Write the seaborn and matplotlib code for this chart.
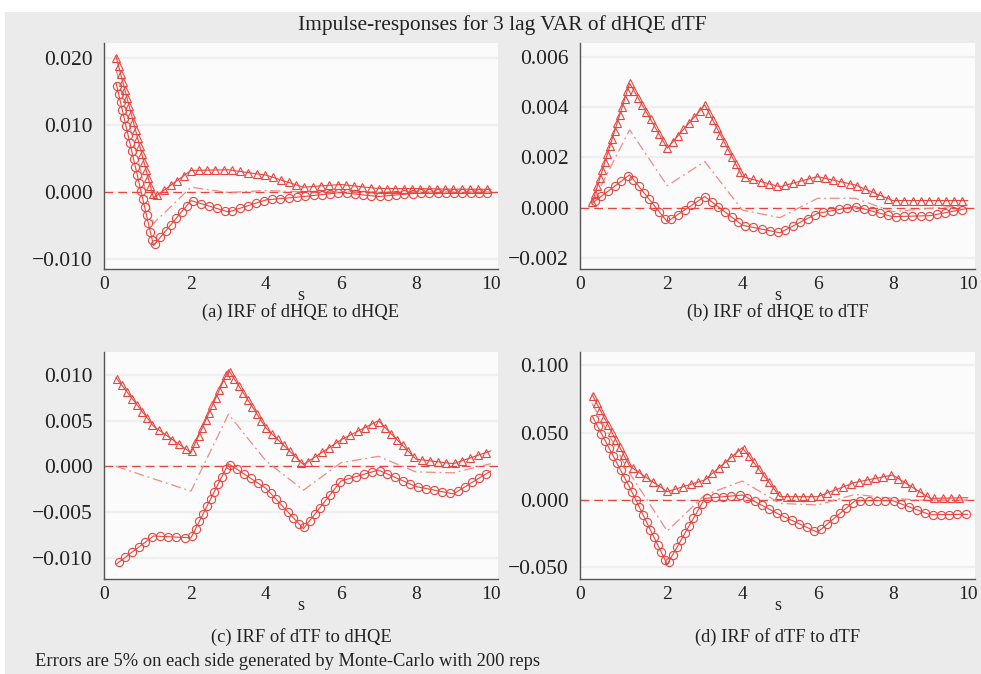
import numpy as np
import pandas as pd
import matplotlib
matplotlib.use("Agg")
import matplotlib.pyplot as plt
from matplotlib.patches import Rectangle
import seaborn as sns

# horizon (s) and the impulse responses
s = [0, 1, 2, 3, 4, 5, 6, 7, 8, 9, 10]

# (a) IRF of dHQE to dHQE
a_upper = [0.0202, -0.0009, 0.0032, 0.0033, 0.0025, 0.0007, 0.0011, 0.0005, 0.0005, 0.0004, 0.0004]
a_mid = [0.0183, -0.0047, 0.0007, -0.0001, 0.0002, 0.0000, 0.0000, 0.0000, 0.0000, 0.0000, 0.0000]
a_lower = [0.0163, -0.0080, -0.0013, -0.0030, -0.0012, -0.0007, -0.0001, -0.0007, -0.0002, -0.0002, -0.0002]

# (b) IRF of dHQE to dTF
b_upper = [0.00017, 0.00494, 0.00236, 0.00408, 0.00123, 0.00083, 0.00123, 0.00090, 0.00028, 0.00028, 0.00028]
b_mid = [0.00017, 0.00309, 0.00087, 0.00183, -0.00010, -0.00040, 0.00037, 0.00037, -0.00016, -0.00003, 0.00010]
b_lower = [0.00017, 0.00130, -0.00056, 0.00044, -0.00070, -0.00100, -0.00023, 0.00004, -0.00036, -0.00032, -0.00003]

# (c) IRF of dTF to dHQE
c_upper = [0.0097, 0.0044, 0.0015, 0.01055, 0.0042, 0.0002, 0.0029, 0.0050, 0.0008, 0.0003, 0.0017]
c_mid = [0.0000, -0.00135, -0.0027, 0.0057, 0.0006, -0.0026, 0.0004, 0.0011, -0.0006, -0.0007, 0.0003]
c_lower = [-0.0107, -0.0076, -0.0078, 0.0003, -0.0024, -0.0068, -0.0016, -0.0004, -0.0022, -0.0030, -0.0005]

# (d) IRF of dTF to dTF
d_upper = [0.0785, 0.0252, 0.0062, 0.0149, 0.0389, 0.0025, 0.0025, 0.0131, 0.0186, 0.0012, 0.0017]
d_mid = [0.0718, 0.0200, -0.0230, 0.0037, 0.0141, -0.0025, -0.0037, 0.0042, 0.0012, -0.0005, 0.0000]
d_lower = [0.0626, 0.0095, -0.0478, 0.0012, 0.0037, -0.0110, -0.0240, -0.0005, -0.0005, -0.0110, -0.0106]

titles = ["(a) IRF of dHQE to dHQE", "(b) IRF of dHQE to dTF",
          "(c) IRF of dTF to dHQE", "(d) IRF of dTF to dTF"]
yticks = [[-0.010, 0.000, 0.010, 0.020],
          [-0.002, 0.000, 0.002, 0.004, 0.006],
          [-0.010, -0.005, 0.000, 0.005, 0.010],
          [-0.050, 0.000, 0.050, 0.100]]
ylims = [(-0.0115, 0.0222), (-0.00244, 0.00654), (-0.0123, 0.0125), (-0.0587, 0.110)]
panels = [(a_upper, a_mid, a_lower), (b_upper, b_mid, b_lower),
          (c_upper, c_mid, c_lower), (d_upper, d_mid, d_lower)]

RED = "#e8453e"
PINK = "#f08a84"

sns.set_theme(style="white")
plt.rcParams["font.family"] = ["Liberation Serif", "DejaVu Serif"]
plt.rcParams["axes.unicode_minus"] = True

fig = plt.figure(figsize=(9.81, 6.74), dpi=100)
fig.patch.set_facecolor("white")
fig.patches.append(Rectangle((5 / 981, 0), 1, 1 - 12 / 674, transform=fig.transFigure,
                             facecolor="#ebebeb", edgecolor="none", zorder=-10))

boxes = [(104, 43, 498, 269), (580, 43, 975, 269),
         (104, 352, 498, 579), (580, 352, 975, 579)]
label_y = [312, 312, 637, 637]


def markers_along(ax, x, y, step, start, marker, size):
    # place hollow markers at equal on-screen distance along the line
    pts = ax.transData.transform(np.column_stack([x, y]))
    seg = np.hypot(np.diff(pts[:, 0]), np.diff(pts[:, 1]))
    cum = np.concatenate([[0], np.cumsum(seg)])
    d = np.arange(start, cum[-1] - 1, step)
    px = np.interp(d, cum, pts[:, 0])
    py = np.interp(d, cum, pts[:, 1])
    back = ax.transData.inverted().transform(np.column_stack([px, py]))
    ax.plot(back[:, 0], back[:, 1], linestyle="none", marker=marker, markersize=size,
            markerfacecolor="none", markeredgecolor=RED, markeredgewidth=0.8, zorder=4)


for i, (upper, mid, lower) in enumerate(panels):
    l, t, r, b = boxes[i]
    ax = fig.add_axes([l / 981, 1 - b / 674, (r - l) / 981, (b - t) / 674])
    ax.set_facecolor("#fbfbfb")
    ax.set_xlim(-0.32, 10.19)
    ax.set_ylim(*ylims[i])

    df = pd.DataFrame({"s": s, "upper": upper, "mid": mid, "lower": lower})
    for yt in yticks[i]:
        ax.axhline(yt, color="#efefef", lw=1.6, zorder=0)
    ax.axhline(0, color=RED, lw=0.9, ls=(0, (7, 4)), zorder=2)
    sns.lineplot(data=df, x="s", y="upper", ax=ax, color=RED, lw=0.8, zorder=3)
    sns.lineplot(data=df, x="s", y="lower", ax=ax, color=RED, lw=0.8, zorder=3)
    sns.lineplot(data=df, x="s", y="mid", ax=ax, color=PINK, lw=0.9,
                 zorder=3).lines[-1].set_linestyle((0, (8, 3, 1.5, 3)))
    markers_along(ax, df["s"], df["upper"], 8.3, 1.5, "^", 5.6)
    markers_along(ax, df["s"], df["lower"], 8.3, 3.5, "o", 5.9)

    for side in ["top", "right"]:
        ax.spines[side].set_visible(False)
    for side in ["left", "bottom"]:
        ax.spines[side].set_color("#555555")
        ax.spines[side].set_linewidth(1.0)

    ax.set_xticks([-0.32, 2, 4, 6, 8, 10])
    ax.set_xticklabels(["0", "2", "4", "6", "8", "10"])
    ax.set_yticks(yticks[i])
    ax.set_yticklabels([f"{v:.3f}".replace("-", "\u2212") for v in yticks[i]])
    ax.tick_params(axis="both", direction="in", length=5, width=0.8, color="#555555",
                   labelcolor="#222222")
    ax.tick_params(axis="y", pad=8, labelsize=15.5)
    ax.tick_params(axis="x", pad=5, labelsize=14)
    ax.set_xlabel("s", fontsize=13, labelpad=-4, color="#222222")
    ax.set_ylabel("")
    fig.text((l + r) / 2 / 981, 1 - label_y[i] / 674, titles[i],
             ha="center", va="center", fontsize=13.3, color="#222222")

fig.text(502 / 981, 1 - 25 / 674, "Impulse-responses for 3 lag VAR of dHQE dTF",
         ha="center", va="center", fontsize=15.4, color="#222222")
fig.text(35 / 981, 1 - 661 / 674, "Errors are 5% on each side generated by Monte-Carlo with 200 reps",
         ha="left", va="center", fontsize=13.3, color="#222222")

fig.savefig("out.png", dpi=100)
